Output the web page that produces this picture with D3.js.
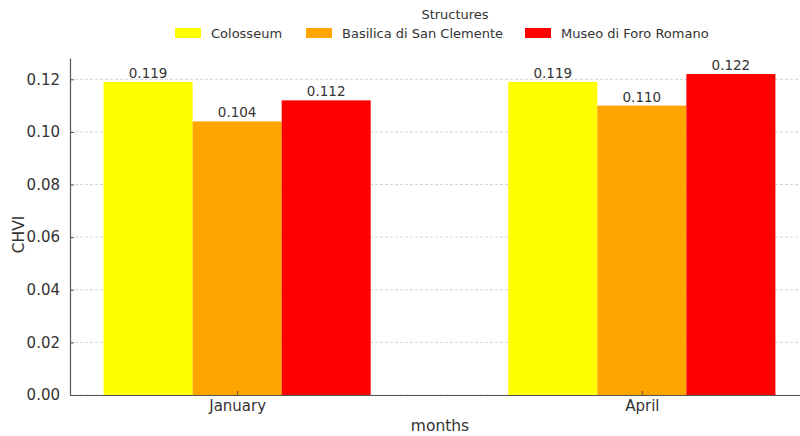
<!DOCTYPE html>
<html>
<head>
<meta charset="utf-8">
<script src="https://cdn.jsdelivr.net/npm/d3@7/dist/d3.min.js"></script>
<style>
  html, body { margin: 0; padding: 0; background: #fff; }
  svg { display: block; font-family: "DejaVu Sans", sans-serif; }
</style>
</head>
<body>
<svg id="chart" width="800" height="436"></svg>
<script>
// CHVI per structure and month
const months = ["January", "April"];
const structures = ["Colosseum", "Basilica di San Clemente", "Museo di Foro Romano"];
const colosseum = [0.119, 0.119];
const sanClemente = [0.104, 0.110];
const foroRomano = [0.112, 0.122];
const colors = ["#ffff00", "#ffa500", "#ff0000"];
const yTicks = [0.00, 0.02, 0.04, 0.06, 0.08, 0.10, 0.12];

const seriesValues = [colosseum, sanClemente, foroRomano];
const barWidth = 0.22;

const svg = d3.select("#chart");
const plotLeft = 70, plotRight = 809, plotTop = 58, plotBottom = 395;

const x = d3.scaleLinear().domain([-0.413, months.length - 1 + 0.413]).range([plotLeft, plotRight]);
const y = d3.scaleLinear().domain([0, 0.1281]).range([plotBottom, plotTop]);

const axisColor = "#555";
const textColor = "#333";

// horizontal dashed grid
svg.append("g")
  .selectAll("line")
  .data(yTicks)
  .join("line")
  .attr("x1", plotLeft).attr("x2", plotRight)
  .attr("y1", d => y(d)).attr("y2", d => y(d))
  .attr("stroke", "#ccc")
  .attr("stroke-width", 0.8)
  .attr("stroke-dasharray", "3,2");

// bars
const rows = [];
seriesValues.forEach((vals, si) => {
  vals.forEach((v, mi) => rows.push({ si, mi, v }));
});

svg.append("g")
  .selectAll("rect")
  .data(rows)
  .join("rect")
  .attr("x", d => x(d.mi + (d.si - 1) * barWidth - barWidth / 2))
  .attr("width", d => x(barWidth) - x(0))
  .attr("y", d => y(d.v))
  .attr("height", d => y(0) - y(d.v))
  .attr("fill", d => colors[d.si]);

// value labels
svg.append("g")
  .selectAll("text")
  .data(rows)
  .join("text")
  .attr("x", d => x(d.mi + (d.si - 1) * barWidth))
  .attr("y", d => y(d.v) - 4)
  .attr("text-anchor", "middle")
  .attr("font-size", 13.5)
  .attr("fill", textColor)
  .text(d => d.v.toFixed(3));

// y axis
const yAxis = d3.axisLeft(y)
  .tickValues(yTicks)
  .tickFormat(d3.format(".2f"))
  .tickSizeInner(-4)
  .tickSizeOuter(0)
  .tickPadding(10);
const gy = svg.append("g").attr("transform", `translate(${plotLeft},0)`).call(yAxis);
gy.select(".domain").attr("stroke", axisColor).attr("stroke-width", 1.2);
gy.selectAll(".tick line").attr("stroke", axisColor);
gy.selectAll(".tick text").attr("font-size", 15).attr("fill", textColor)
  .attr("font-family", "DejaVu Sans, sans-serif");

// x axis
const xAxis = d3.axisBottom(x)
  .tickValues(d3.range(months.length))
  .tickFormat(i => months[i])
  .tickSizeInner(-4)
  .tickSizeOuter(0)
  .tickPadding(5);
const gx = svg.append("g").attr("transform", `translate(0,${plotBottom})`).call(xAxis);
gx.select(".domain").attr("stroke", axisColor).attr("stroke-width", 1.2);
gx.selectAll(".tick line").attr("stroke", axisColor);
gx.selectAll(".tick text").attr("font-size", 15).attr("fill", textColor)
  .attr("font-family", "DejaVu Sans, sans-serif");

// axis titles
svg.append("text")
  .attr("x", 440).attr("y", 431)
  .attr("text-anchor", "middle")
  .attr("font-size", 15.5)
  .attr("fill", textColor)
  .text("months");

svg.append("text")
  .attr("transform", `translate(24,${(plotTop + plotBottom) / 2 + 8}) rotate(-90)`)
  .attr("text-anchor", "middle")
  .attr("font-size", 15.5)
  .attr("fill", textColor)
  .text("CHVI");

// legend
const legend = svg.append("g");
legend.append("text")
  .attr("x", 455).attr("y", 19)
  .attr("text-anchor", "middle")
  .attr("font-size", 13)
  .attr("fill", textColor)
  .text("Structures");

const legendX = [175, 306, 525];
const items = legend.selectAll("g.item")
  .data(structures)
  .join("g")
  .attr("class", "item")
  .attr("transform", (d, i) => `translate(${legendX[i]},28)`);
items.append("rect")
  .attr("width", 26).attr("height", 10)
  .attr("fill", (d, i) => colors[i]);
items.append("text")
  .attr("x", 36).attr("y", 10)
  .attr("font-size", 13)
  .attr("fill", textColor)
  .text(d => d);
</script>
</body>
</html>
